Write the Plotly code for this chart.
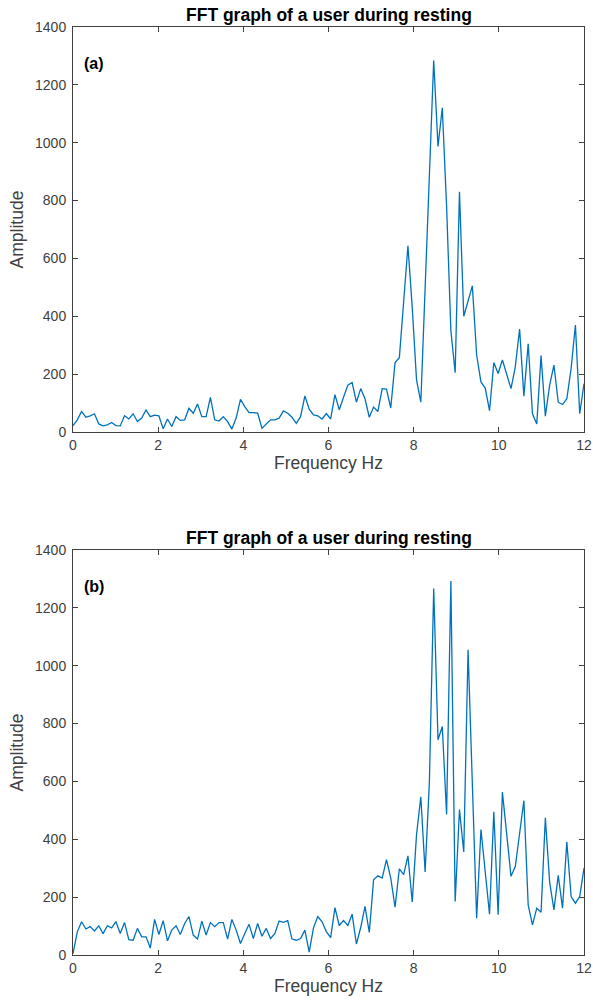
import numpy as np
import plotly.graph_objects as go

# FFT frequency bins (Hz) - 120 bins spanning 0..12 Hz
freq = np.linspace(0, 12, 120)

# Panel (a) amplitudes
amp_a = [22, 42, 71, 51, 56, 63, 28, 21, 25, 33,
         22, 21, 56, 45, 63, 36, 48, 76, 53, 58,
         56, 11, 45, 19, 53, 40, 42, 82, 65, 97,
         53, 53, 120, 42, 38, 53, 36, 10, 48, 113,
         88, 67, 67, 65, 13, 28, 42, 42, 48, 73,
         65, 51, 30, 53, 125, 79, 59, 56, 45, 64,
         45, 129, 77, 120, 162, 171, 103, 150, 115, 51,
         86, 71, 150, 148, 83, 240, 257, 450, 644, 430,
         180, 103, 500, 950, 1284, 987, 1121, 780, 350, 205,
         830, 400, 452, 505, 266, 173, 152, 74, 240, 202,
         249, 196, 150, 225, 356, 124, 305, 63, 28, 264,
         55, 162, 231, 103, 95, 115, 220, 370, 63, 167]

# Panel (b) amplitudes
amp_b = [5, 80, 115, 90, 98, 83, 101, 74, 101, 94,
         115, 74, 112, 53, 51, 92, 63, 63, 24, 123,
         71, 119, 49, 86, 101, 71, 109, 133, 69, 55,
         117, 69, 112, 98, 112, 112, 55, 123, 86, 40,
         74, 106, 57, 109, 65, 92, 57, 74, 117, 113,
         119, 55, 51, 57, 86, 10, 94, 133, 115,
         81, 60, 164, 102, 119, 102, 141, 38, 95, 168,
         78, 260, 274, 266, 330, 266, 165, 298, 278, 343,
         183, 416, 547, 287, 600, 1267, 744, 790, 486, 1293,
         185, 503, 356, 1055, 613, 127, 434, 278, 141, 495,
         139, 563, 416, 272, 306, 416, 534, 173, 104, 162,
         148, 474, 252, 156, 275, 162, 391, 202, 179, 202,
         300]

x_ticks = [0, 2, 4, 6, 8, 10, 12]
y_ticks = [0, 200, 400, 600, 800, 1000, 1200, 1400]
chart_title = "FFT graph of a user during resting"
x_label = "Frequency Hz"
y_label = "Amplitude"
panel_labels = ["(a)", "(b)"]

LINE = "#0072BD"
AX = "#404040"
FONT = "Liberation Sans, Arial, Helvetica, sans-serif"

fig = go.Figure()
fig.add_trace(go.Scatter(x=freq, y=amp_a, mode="lines", line=dict(color=LINE, width=1.3),
                         xaxis="x", yaxis="y", showlegend=False))
fig.add_trace(go.Scatter(x=freq, y=amp_b, mode="lines", line=dict(color=LINE, width=1.3),
                         xaxis="x2", yaxis="y2", showlegend=False))

def xax(anchor):
    return dict(domain=[0, 1], anchor=anchor, range=[0, 12], tickvals=x_ticks,
                ticks="inside", ticklen=5, tickcolor=AX, showline=True, linecolor=AX,
                linewidth=1, mirror="ticks", showgrid=False, zeroline=False,
                automargin=False,
                tickfont=dict(family=FONT, size=14, color=AX),
                title=dict(text=x_label, font=dict(family=FONT, size=17.5, color=AX), standoff=4))

def yax(anchor, dom):
    return dict(domain=dom, anchor=anchor, range=[0, 1400], tickvals=y_ticks,
                ticks="inside", ticklen=5, tickcolor=AX, showline=True, linecolor=AX,
                linewidth=1, mirror="ticks", showgrid=False, zeroline=False,
                automargin=False, ticklabelstandoff=3,
                tickfont=dict(family=FONT, size=14, color=AX),
                title=dict(text=y_label, font=dict(family=FONT, size=17.5, color=AX), standoff=6))

H = 1006
top, bot = 27, 51
ph = H - top - bot
dom_a = [(955 - 432) / ph, 1.0]
dom_b = [0.0, (955 - 550) / ph]

annotations = []
for i, (xr, yr) in enumerate([("x", "y"), ("x2", "y2")]):
    annotations.append(dict(text="<b>" + chart_title + "</b>", x=0.5, xref=xr + " domain",
                            y=1, yref=yr + " domain", yanchor="middle", yshift=12,
                            showarrow=False, font=dict(family=FONT, size=17.5, color="#000000")))
    annotations.append(dict(text="<b>" + panel_labels[i] + "</b>", x=0.22, xref=xr, xanchor="left",
                            y=1275, yref=yr, yanchor="middle", showarrow=False,
                            font=dict(family=FONT, size=16, color="#000000")))

fig.update_layout(width=593, height=H, margin=dict(l=73, r=9, t=top, b=bot),
                  paper_bgcolor="white", plot_bgcolor="white",
                  xaxis=xax("y"), yaxis=yax("x", dom_a),
                  xaxis2=xax("y2"), yaxis2=yax("x2", dom_b),
                  annotations=annotations)

fig.write_html("out.html", config={"displayModeBar": False},
               post_script="document.body.style.margin='0px';")
